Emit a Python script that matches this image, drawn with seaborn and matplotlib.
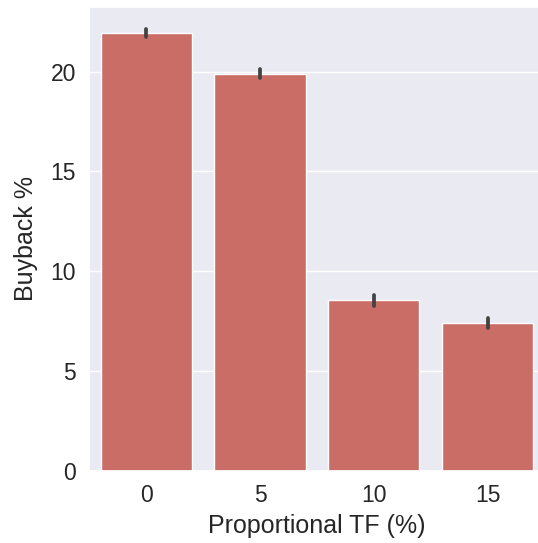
import pandas as pd
import matplotlib
matplotlib.use("Agg")
import matplotlib.pyplot as plt
import seaborn as sns

# Data
tf_levels = ["0", "5", "10", "15"]
buyback_mean = [21.95, 19.88, 8.57, 7.42]
ci_low = [21.76, 19.67, 8.28, 7.17]
ci_high = [22.14, 20.13, 8.83, 7.63]

sns.set(font_scale=1.5)
plt.rcParams['font.family'] = ['Liberation Sans', 'DejaVu Sans']

df = pd.DataFrame({"tf": tf_levels, "buyback": buyback_mean})

fig, ax = plt.subplots(figsize=(5.38, 5.43), dpi=100)
sns.barplot(data=df, x="tf", y="buyback", color=sns.color_palette("hls", 4)[0],
            errorbar=None, ax=ax)

# confidence intervals, drawn on the categorical positions
for i, (lo, hi) in enumerate(zip(ci_low, ci_high)):
    ax.plot([i, i], [lo, hi], color=".26", linewidth=2.7, solid_capstyle="round")

ax.set_xlabel("Proportional TF (%)", labelpad=5)
ax.set_ylabel("Buyback %", labelpad=9)
ax.set_yticks([0, 5, 10, 15, 20])
ax.set_xlim(-0.5, len(tf_levels) - 0.5)
ax.set_ylim(0, 23.23)

# original figure was cropped on the right edge
ax.set_position([0.166, 0.1332, 1.012 - 0.166, 0.9866 - 0.1332])
plt.savefig("out.png")
